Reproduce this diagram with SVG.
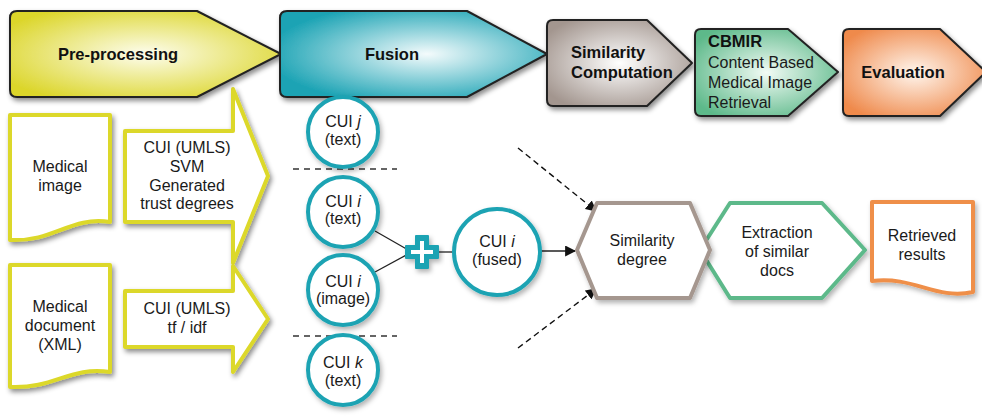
<svg xmlns="http://www.w3.org/2000/svg" width="982" height="416" viewBox="0 0 982 416">
<defs>
<filter id="sh" x="-20%" y="-20%" width="140%" height="150%"><feDropShadow dx="2" dy="3" stdDeviation="2.5" flood-color="#000" flood-opacity="0.45"/></filter>
<filter id="sh2" x="-20%" y="-20%" width="140%" height="150%"><feDropShadow dx="2" dy="3" stdDeviation="2.5" flood-color="#000" flood-opacity="0.3"/></filter>
<radialGradient id="gY" cx="50%" cy="50%" r="60%"><stop offset="0" stop-color="#fdfdee"/><stop offset="1" stop-color="#dcd62c"/></radialGradient>
<radialGradient id="gT" cx="55%" cy="50%" r="60%"><stop offset="0" stop-color="#f4fbfc"/><stop offset="1" stop-color="#1ba3b4"/></radialGradient>
<radialGradient id="gG" cx="50%" cy="50%" r="60%"><stop offset="0" stop-color="#ffffff"/><stop offset="1" stop-color="#a3968f"/></radialGradient>
<radialGradient id="gN" cx="50%" cy="50%" r="60%"><stop offset="0" stop-color="#f2fbf5"/><stop offset="1" stop-color="#5db98a"/></radialGradient>
<radialGradient id="gO" cx="50%" cy="50%" r="60%"><stop offset="0" stop-color="#fff6ee"/><stop offset="1" stop-color="#ef8a4c"/></radialGradient>
<marker id="ah" viewBox="0 0 10 10" refX="9" refY="5" markerWidth="11" markerHeight="11" markerUnits="userSpaceOnUse" orient="auto"><path d="M0,0 L10,5 L0,10 Z" fill="#111"/></marker>
</defs>
<style>
.hd{stroke:#222;stroke-width:2;stroke-linejoin:round;filter:url(#sh)}
.ht{font-family:"Liberation Sans",Arial,sans-serif;font-weight:bold;font-size:16.5px;fill:#111}
.hn{font-family:"Liberation Sans",Arial,sans-serif;font-size:16px;fill:#1a1a1a}
.t{font-family:"Liberation Sans",Arial,sans-serif;font-size:16px;fill:#1a1a1a;text-anchor:middle}
.ct{font-family:"Liberation Sans",Arial,sans-serif;font-size:16px;fill:#1a1a1a;text-anchor:middle}
.yl{fill:#fff;stroke:#dcd82a;stroke-width:4;stroke-linejoin:round;filter:url(#sh)}
.cir{fill:#fff;stroke:#1ea3b3;stroke-width:4;filter:url(#sh2)}
.ln{stroke:#222;stroke-width:1.3;fill:none}
.dl{stroke:#333;stroke-width:1.5;stroke-dasharray:6,5;fill:none}
.da{stroke:#111;stroke-width:1.4;stroke-dasharray:6,4;fill:none}
</style>

<g id="arrow-image">
<path class="yl" d="M125 131 L233 131 L233 89 L268 176 L233 263 L233 222 L125 222 Z"/>
<text class="t" x="187" y="153">CUI (UMLS)</text>
<text class="t" x="187" y="172">SVM</text>
<text class="t" x="187" y="191">Generated</text>
<text class="t" x="187" y="209">trust degrees</text>
</g>
<g id="arrow-doc">
<path class="yl" d="M125 291 L233 291 L233 266 L268 319 L233 372 L233 347 L125 347 Z"/>
<text class="t" x="187" y="314">CUI (UMLS)</text>
<text class="t" x="187" y="333">tf / idf</text>
</g>

<g id="preprocessing">
<path class="hd" fill="url(#gY)" d="M17 11 L197 11 L281 54 L197 97 L17 97 Q10 97 10 90 L10 18 Q10 11 17 11 Z"/>
<text class="ht" x="118" y="60" text-anchor="middle">Pre-processing</text>
</g>
<g id="fusion">
<path class="hd" fill="url(#gT)" d="M287 11 L467 11 L547 54 L467 97 L287 97 Q280 97 280 90 L280 18 Q280 11 287 11 Z"/>
<text class="ht" x="392" y="60" text-anchor="middle">Fusion</text>
</g>
<g id="similarity-computation">
<path class="hd" fill="url(#gG)" d="M553 20 L647 20 L692 63 L647 106 L553 106 Q547 106 547 100 L547 26 Q547 20 553 20 Z"/>
<text class="ht" x="571" y="58">Similarity</text>
<text class="ht" x="571" y="78">Computation</text>
</g>
<g id="cbmir">
<path class="hd" fill="url(#gN)" d="M701 29 L788 29 L838 72 L788 116 L701 116 Q695 116 695 110 L695 35 Q695 29 701 29 Z"/>
<text class="ht" x="708" y="47">CBMIR</text>
<text class="hn" x="708" y="68">Content Based</text>
<text class="hn" x="708" y="88">Medical Image</text>
<text class="hn" x="708" y="108">Retrieval</text>
</g>
<g id="evaluation">
<path class="hd" fill="url(#gO)" d="M849 29 L940 29 L986 72 L940 116 L849 116 Q843 116 843 110 L843 35 Q843 29 849 29 Z"/>
<text class="ht" x="903" y="78" text-anchor="middle">Evaluation</text>
</g>

<g id="medical-image">
<path class="yl" d="M10 115 L110 115 L110 222 C 70 216, 55 242, 10 240 Z"/>
<text class="t" x="60" y="172">Medical</text>
<text class="t" x="60" y="191">image</text>
</g>
<g id="medical-document">
<path class="yl" d="M10 265 L110 265 L110 372 C 70 366, 55 389, 10 387 Z"/>
<text class="t" x="60" y="312">Medical</text>
<text class="t" x="60" y="331">document</text>
<text class="t" x="60" y="350">(XML)</text>
</g>

<g id="connectors">
<line class="dl" x1="293" y1="169" x2="397" y2="169"/>
<line class="dl" x1="293" y1="336" x2="397" y2="336"/>
<line class="ln" x1="375" y1="231" x2="410" y2="251"/>
<line class="ln" x1="375" y1="272" x2="410" y2="253"/>
<line class="ln" x1="436" y1="252" x2="454" y2="252"/>
<line class="ln" x1="540" y1="251" x2="575" y2="251" marker-end="url(#ah)"/>
<line class="da" x1="518" y1="148" x2="596" y2="211" marker-end="url(#ah)"/>
<line class="da" x1="518" y1="348" x2="596" y2="289" marker-end="url(#ah)"/>
</g>

<g id="cui-j">
<circle class="cir" cx="343" cy="132" r="35"/>
<text class="ct" x="343" y="127">CUI <tspan font-style="italic">j</tspan></text>
<text class="ct" x="343" y="145">(text)</text>
</g>
<g id="cui-i-text">
<circle class="cir" cx="343" cy="212" r="35"/>
<text class="ct" x="343" y="207">CUI <tspan font-style="italic">i</tspan></text>
<text class="ct" x="343" y="224">(text)</text>
</g>
<g id="cui-i-image">
<circle class="cir" cx="343" cy="290" r="35"/>
<text class="ct" x="343" y="287">CUI <tspan font-style="italic">i</tspan></text>
<text class="ct" x="343" y="304">(image)</text>
</g>
<g id="cui-k">
<circle class="cir" cx="343" cy="370" r="35"/>
<text class="ct" x="343" y="368">CUI <tspan font-style="italic">k</tspan></text>
<text class="ct" x="343" y="386">(text)</text>
</g>
<g id="plus">
<path d="M416 236 L428 236 L428 246 L438 246 L438 258 L428 258 L428 268 L416 268 L416 258 L406 258 L406 246 L416 246 Z" fill="#1ea3b3" stroke="#1ea3b3" stroke-width="2" stroke-linejoin="round" filter="url(#sh2)"/>
<path d="M420 241 L424 241 L424 250 L433 250 L433 254 L424 254 L424 263 L420 263 L420 254 L411 254 L411 250 L420 250 Z" fill="#fff"/>
</g>
<g id="cui-i-fused">
<circle class="cir" cx="497" cy="252" r="43"/>
<text class="ct" x="497" y="247">CUI <tspan font-style="italic">i</tspan></text>
<text class="ct" x="497" y="265">(fused)</text>
</g>

<g id="extraction">
<path d="M730 203 L822 203 L865 250 L822 298 L730 298 L700 250 Z" fill="#fff" stroke="#5db98a" stroke-width="4" stroke-linejoin="round" filter="url(#sh2)"/>
<text class="t" x="777" y="238">Extraction</text>
<text class="t" x="777" y="257">of similar</text>
<text class="t" x="777" y="276">docs</text>
</g>
<g id="similarity-degree">
<path d="M597 203 L690 203 L710 250 L690 298 L597 298 L577 250 Z" fill="#fff" stroke="#a5978f" stroke-width="4" stroke-linejoin="round" filter="url(#sh2)"/>
<text class="t" x="642" y="246">Similarity</text>
<text class="t" x="642" y="265">degree</text>
</g>
<g id="retrieved-results">
<path d="M872 202 L973 202 L973 292 C 935 300, 915 276, 872 281 Z" fill="#fff" stroke="#ef8f4a" stroke-width="4" stroke-linejoin="round" filter="url(#sh2)"/>
<text class="t" x="922" y="241">Retrieved</text>
<text class="t" x="922" y="260">results</text>
</g>
</svg>
